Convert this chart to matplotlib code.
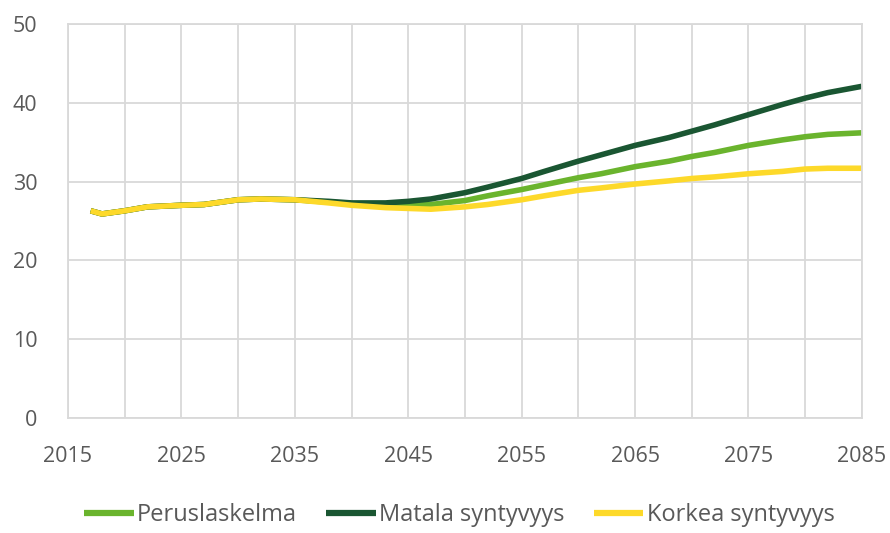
import matplotlib
matplotlib.use("Agg")
import matplotlib.pyplot as plt

plt.rcParams['font.family'] = ['Open Sans', 'DejaVu Sans']

# years
years = [2017, 2018, 2020, 2022, 2025, 2027, 2030, 2032, 2035, 2038, 2040, 2043,
         2045, 2047, 2050, 2052, 2055, 2057, 2060, 2062, 2065, 2068, 2070, 2072,
         2075, 2078, 2080, 2082, 2085]

perus = [26.3, 25.9, 26.3, 26.8, 27.0, 27.1, 27.7, 27.8, 27.7, 27.4, 27.2, 27.0,
         27.0, 27.1, 27.6, 28.2, 29.0, 29.6, 30.5, 31.0, 31.9, 32.6, 33.2, 33.7,
         34.6, 35.3, 35.7, 36.0, 36.2]

matala = [26.3, 25.9, 26.3, 26.8, 27.0, 27.1, 27.7, 27.8, 27.7, 27.5, 27.3, 27.3,
          27.5, 27.8, 28.6, 29.3, 30.4, 31.3, 32.6, 33.4, 34.6, 35.6, 36.4, 37.2,
          38.5, 39.8, 40.6, 41.3, 42.1]

korkea = [26.3, 25.9, 26.3, 26.8, 27.0, 27.1, 27.7, 27.8, 27.7, 27.3, 27.0, 26.7,
          26.6, 26.5, 26.8, 27.1, 27.7, 28.2, 28.9, 29.2, 29.7, 30.1, 30.4, 30.6,
          31.0, 31.3, 31.6, 31.7, 31.7]

labels = ['Peruslaskelma', 'Matala syntyvyys', 'Korkea syntyvyys']
colors = ['#6ab42d', '#1a5632', '#fdd92a']

fig = plt.figure(figsize=(8.9, 5.33), dpi=100)
ax = fig.add_axes([0.0764, 0.2158, 0.892, 0.739])

ax.plot(years, perus, color=colors[0], lw=4, label=labels[0], solid_capstyle='butt')
ax.plot(years, matala, color=colors[1], lw=4, label=labels[1], solid_capstyle='butt')
ax.plot(years, korkea, color=colors[2], lw=4, label=labels[2], solid_capstyle='butt')

ax.set_xlim(2015, 2085)
ax.set_ylim(0, 50)
xt = list(range(2015, 2086, 5))
ax.set_xticks(xt)
ax.set_xticklabels([str(x) if (x - 2015) % 10 == 0 else '' for x in xt])
ax.set_yticks(range(0, 51, 10))

ax.grid(True, color='#d9d9d9', lw=1.3)
ax.set_axisbelow(True)
for s in ax.spines.values():
    s.set_color('#d9d9d9')
    s.set_linewidth(1.3)
ax.tick_params(length=0, colors='#595959', labelsize=15.5)
ax.tick_params(axis='x', pad=20)
ax.tick_params(axis='y', pad=22)

leg = fig.legend(loc='center', bbox_to_anchor=(0.516, 0.034), ncol=3, frameon=False,
                 fontsize=17, handlelength=2.1, handletextpad=0.13, columnspacing=1.25)
for t in leg.get_texts():
    t.set_color('#595959')
for h in leg.get_lines():
    h.set_linewidth(4.5)

fig.savefig('out.png', dpi=100)
